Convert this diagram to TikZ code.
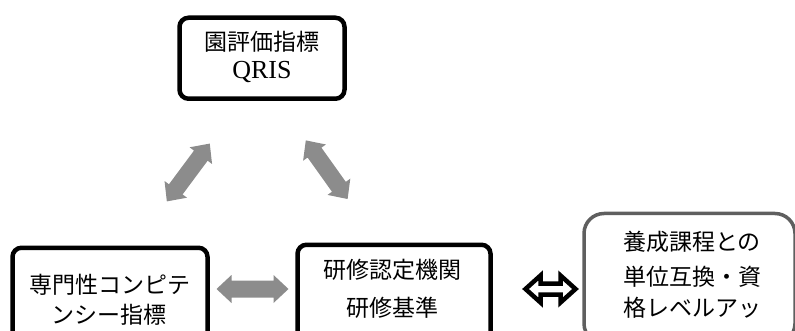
\documentclass[tikz,border=0pt]{standalone}
\usepackage{fontspec}
\setmainfont{Liberation Serif}
\newfontfamily\jpfont{Noto Sans CJK JP}
\definecolor{arrowgray}{HTML}{8C8C8C}
\definecolor{boxgray}{HTML}{5F5F5F}
\tikzset{
  blackbox/.style={draw=black, line width=4.5pt, rounded corners=9pt, fill=white, inner sep=0pt},
  graybox/.style={draw=boxgray, line width=3.5pt, rounded corners=20pt, fill=white, inner sep=0pt},
  jptext/.style={font=\jpfont\fontsize{23}{23}\selectfont, inner sep=0pt, anchor=base},
  lattext/.style={font=\fontsize{26}{26}\selectfont, inner sep=0pt, anchor=base},
  pics/grayarrow/.style={code={
    \fill[arrowgray] (-36,0) -- (-21,-14) -- (-21,-8.5) -- (21,-8.5) -- (21,-14) -- (36,0)
      -- (21,14) -- (21,8.5) -- (-21,8.5) -- (-21,14) -- cycle;}},
  pics/blackarrow/.style={code={
    \draw[black, fill=white, line width=4.5pt, line join=miter] (-25,0) -- (-10,-13.5) -- (-10,-5.5) -- (10,-5.5) -- (10,-13.5) -- (25,0)
      -- (10,13.5) -- (10,5.5) -- (-10,5.5) -- (-10,13.5) -- cycle;}},
}
\begin{document}
\begin{tikzpicture}[x=1pt,y=-1pt]
\useasboundingbox (0,0) rectangle (795,331);
\clip (0,0) rectangle (795,331);
% boxes
\node[blackbox, minimum width=165pt, minimum height=81pt, anchor=north] (top) at (262,15.5) {};
\node[blackbox, minimum width=195pt, minimum height=130pt, anchor=north] (left) at (110,245.5) {};
\node[blackbox, minimum width=193pt, minimum height=130pt, anchor=north] (mid) at (394,242.5) {};
\node[graybox, minimum width=211pt, minimum height=130pt, anchor=north] (right) at (689.5,211.75) {};
% texts
\node[jptext] (top1) at (262,50.7) {園評価指標};
\node[lattext] (top2) at (262,78.5) {QRIS};
\node[jptext] (left1) at (109.5,293.7) {専門性コンピテ};
\node[jptext] (left2) at (108.5,323.7) {ンシー指標};
\node[jptext] (mid1) at (392.5,278.7) {研修認定機関};
\node[jptext] (mid2) at (392.5,316.7) {研修基準};
\node[jptext] (right1) at (692,251) {養成課程との};
\node[jptext] (right2) at (692,285) {単位互換・資};
\node[jptext] (right3) at (692,316.5) {格レベルアッ};
% arrows
\pic[rotate=53.4] (a1) at (188.3,172.5) {grayarrow};
\pic[rotate=-54.5] (a2) at (326.7,169.7) {grayarrow};
\pic (a3) at (252.5,289) {grayarrow};
\pic (a4) at (550.5,289) {blackarrow};
\end{tikzpicture}
\end{document}
